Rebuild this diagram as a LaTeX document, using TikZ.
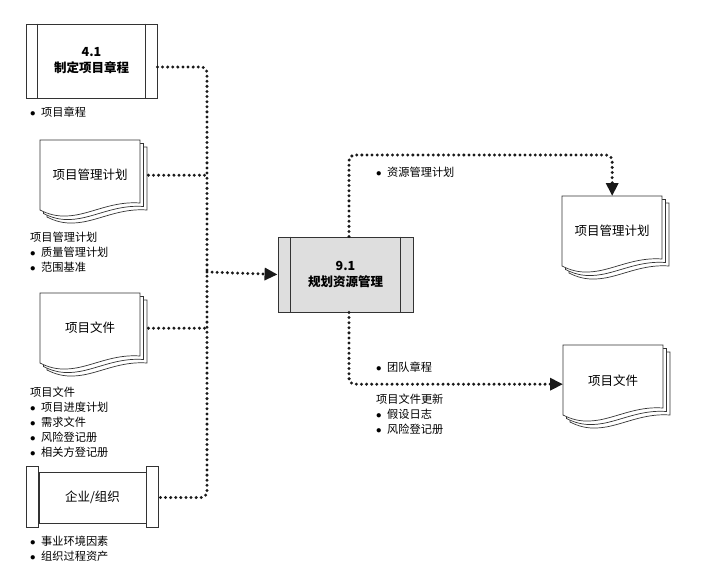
\documentclass[tikz,border=0pt]{standalone}
\usepackage{fontspec}
\setmainfont{Noto Sans CJK SC}
\usetikzlibrary{arrows.meta,backgrounds}
\tikzset{
  flow/.style    = {draw=black!90, line width=3.3pt, dash pattern=on 0pt off 5.1pt,
                    line cap=round, rounded corners=6pt},
  tip/.style     = {-{Triangle[length=13pt,width=12pt]}},
  boxline/.style = {draw=black!80, line width=0.9pt},
  procbox/.style = {boxline, inner sep=0pt, align=center,
                    font=\bfseries\fontsize{12.5}{16}\selectfont},
  docbox/.style  = {inner sep=0pt, minimum width=100pt, minimum height=70pt,
                    anchor=north west, font=\fontsize{12.5}{15}\selectfont},
  lbl/.style     = {anchor=north west, inner sep=0pt, align=left,
                    font=\fontsize{11.2}{15}\selectfont},
}
\newcommand{\itm}{\makebox[11pt][l]{$\bullet$}}
% stack of three pages behind a document node
\newcommand{\docpages}[1]{%
  \begin{scope}[on background layer, shift={(#1.north west)}]
    \foreach \o in {7,3.5,0}{
      \draw[boxline, line width=0.7pt, fill=white] (\o,\o) -- ++(100,0) -- ++(0,63)
        .. controls +(-40,-3) and +(35,18) .. ++(-100,7) -- cycle;
    }
  \end{scope}}
% side bars of a process box
\newcommand{\sidebars}[2]{%
  \draw[boxline] ([xshift=#2pt]#1.north west) -- ([xshift=#2pt]#1.south west);
  \draw[boxline] ([xshift=-#2pt]#1.north east) -- ([xshift=-#2pt]#1.south east);}

\begin{document}
\begin{tikzpicture}[x=1pt, y=-1pt]
\useasboundingbox (0,0) rectangle (718,579);

% ── Inputs ─────────────────────────────────────────────
\node[procbox, minimum width=131pt, minimum height=74pt] (charter) at (91.5,61) {4.1\\制定项目章程};
\sidebars{charter}{12}
\node[lbl] (charterLbl) at (30,107) {\itm 项目章程};

\node[docbox] (pmpIn) at (40,140) {项目管理计划};
\docpages{pmpIn}
\node[lbl] (pmpInLbl) at (30,232) {项目管理计划\\\itm 质量管理计划\\\itm 范围基准};

\node[docbox] (pdIn) at (40,293) {项目文件};
\docpages{pdIn}
\node[lbl] (pdInLbl) at (30,387) {项目文件\\\itm 项目进度计划\\\itm 需求文件\\\itm 风险登记册\\\itm 相关方登记册};

\node[procbox, font=\fontsize{12.5}{16}\selectfont, minimum width=107pt, minimum height=51pt] (eef) at (92.5,497.5) {企业/组织};
\draw[boxline] ([shift={(-12,-5)}]eef.north west) rectangle ([shift={(0,4)}]eef.south west);
\draw[boxline] ([shift={(0,-5)}]eef.north east) rectangle ([shift={(12,4)}]eef.south east);
\node[lbl] (eefLbl) at (30,536) {\itm 事业环境因素\\\itm 组织过程资产};

% ── Process ────────────────────────────────────────────
\node[procbox, fill=black!13, minimum width=135pt, minimum height=75pt] (plan) at (345.5,274.5) {9.1\\规划资源管理};
\sidebars{plan}{13}

% ── Outputs ────────────────────────────────────────────
\node[docbox] (pmpOut) at (562,196) {项目管理计划};
\docpages{pmpOut}
\node[lbl] (resLbl) at (376,167) {\itm 资源管理计划};

\node[docbox] (pdOut) at (563,345) {项目文件};
\docpages{pdOut}
\node[lbl] (teamLbl) at (376,362) {\itm 团队章程};
\node[lbl] (updLbl) at (376,394) {项目文件更新\\\itm 假设日志\\\itm 风险登记册};

% ── Connectors ─────────────────────────────────────────
\coordinate (merge) at (207,272);
\coordinate (rtop) at (349,155);
\draw[flow] ([yshift=-6pt]charter.east) -| (merge);
\draw[flow] ([xshift=8pt]pmpIn.east) -- (pmpIn.east -| merge);
\draw[flow] ([xshift=8pt]pdIn.east) -- (pdIn.east -| merge);
\draw[flow] ([xshift=14pt]eef.east) -| (merge);
\draw[flow, tip] (merge) -- (plan.west);
\draw[flow, tip] (plan.north -| rtop) -- (rtop) -| (pmpOut.north);
\draw[flow, tip] (plan.south -| rtop) |- ([yshift=-4pt]pdOut.west);

\end{tikzpicture}
\end{document}
